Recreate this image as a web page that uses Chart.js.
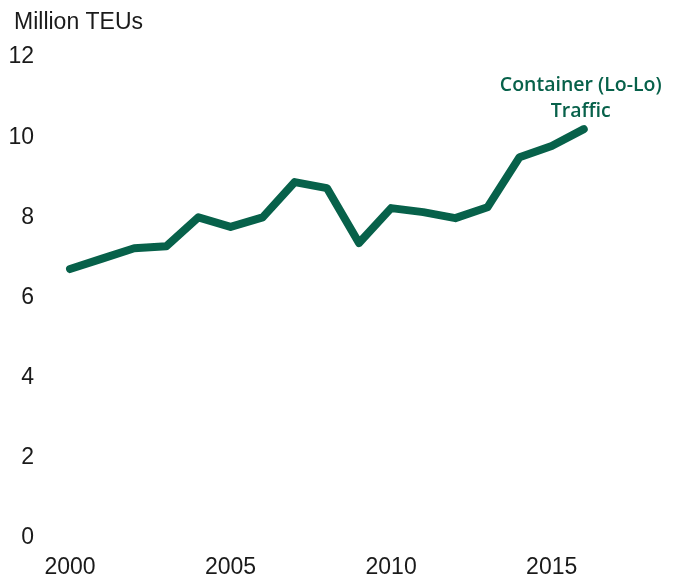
<!DOCTYPE html>
<html>
<head>
<meta charset="utf-8">
<script src="https://cdn.jsdelivr.net/npm/chart.js@4"></script>
<style>
  html, body { margin: 0; padding: 0; background: #fff; overflow: hidden; }
  canvas { display: block; }
</style>
</head>
<body>
<canvas id="myChart" width="678" height="576"></canvas>
<script>
const years = [2000, 2001, 2002, 2003, 2004, 2005, 2006, 2007, 2008, 2009, 2010, 2011, 2012, 2013, 2014, 2015, 2016]
const teus = [6.71, 6.97, 7.23, 7.28, 8.0, 7.76, 8.0, 8.88, 8.73, 7.36, 8.23, 8.13, 7.98, 8.25, 9.5, 9.78, 10.2]
const yTicks = [0, 2, 4, 6, 8, 10, 12]
const xTicks = [2000, 2005, 2010, 2015]

const unitLabel = 'Million TEUs'
const seriesLabel = ['Container (Lo-Lo)', 'Traffic']

const clrGreen = '#07614a'
const clrText = '#1a1a1a'
const font = 'Arial, "Liberation Sans", sans-serif'

// unit label top left + series label near the last point
const labels = {
  id: 'labels',
  afterDraw: (chart) => {
    const ctx = chart.ctx
    ctx.save()
    ctx.fillStyle = clrText
    ctx.font = `23px ${font}`
    ctx.textAlign = 'left'
    ctx.textBaseline = 'middle'
    ctx.fillText(unitLabel, 14, 23)

    const last = teus.length - 1
    const x = chart.scales.x.getPixelForValue(years[last])
    const y = chart.scales.y.getPixelForValue(teus[last])
    ctx.fillStyle = clrGreen
    ctx.font = `600 19.5px "Open Sans", sans-serif`
    ctx.textAlign = 'center'
    ctx.textBaseline = 'alphabetic'
    ctx.fillText(seriesLabel[0], x - 3, y - 38)
    ctx.fillText(seriesLabel[1], x - 3, y - 12)
    ctx.restore()
  },
}

const config = {
  type: 'line',
  data: {
    datasets: [
      {
        data: years.map((yr, i) => ({ x: yr, y: teus[i] })),
        borderColor: clrGreen,
        borderWidth: 8,
        borderCapStyle: 'round',
        borderJoinStyle: 'round',
        pointRadius: 0,
        tension: 0,
        clip: false,
      },
    ],
  },
  options: {
    responsive: false,
    animation: false,
    devicePixelRatio: 1,
    layout: {
      padding: { top: 57, right: 30, left: 0, bottom: 0 },
    },
    scales: {
      x: {
        type: 'linear',
        min: 2000,
        max: 2018,
        grid: { display: false, drawTicks: false },
        border: { display: false },
        afterBuildTicks: (scale) => {
          scale.ticks = xTicks.map((v) => ({ value: v }))
        },
        afterFit: (scale) => {
          scale.height = 38
          scale.paddingLeft = 0
          scale.paddingRight = 0
        },
        ticks: {
          color: clrText,
          font: { size: 23, family: font, lineHeight: 1 },
          padding: 18,
          maxRotation: 0,
          callback: (v) => String(v),
        },
      },
      y: {
        min: 0,
        max: 12,
        grid: { display: false, drawTicks: false },
        border: { display: false },
        afterBuildTicks: (scale) => {
          scale.ticks = yTicks.map((v) => ({ value: v }))
        },
        afterFit: (scale) => {
          scale.width = 70
          scale.paddingTop = 0
          scale.paddingBottom = 0
        },
        ticks: {
          color: clrText,
          font: { size: 23, family: font },
          padding: 36,
        },
      },
    },
    plugins: {
      legend: { display: false },
      tooltip: { enabled: false },
    },
  },
  plugins: [labels],
}

new Chart(document.getElementById('myChart'), config)
</script>
</body>
</html>
